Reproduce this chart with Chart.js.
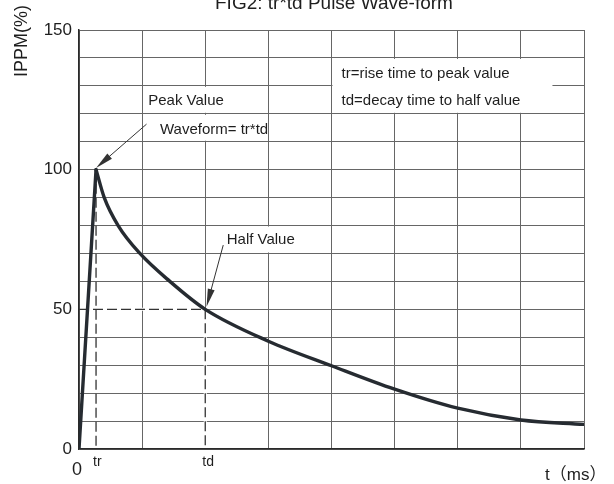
<!DOCTYPE html>
<html>
<head>
<meta charset="utf-8">
<script src="https://cdn.jsdelivr.net/npm/chart.js@4.4.1/dist/chart.umd.min.js"></script>
<style>
  body { margin: 0; background: #fff; }
  #wrap { width: 614px; height: 484px; }
</style>
</head>
<body>
<div id="wrap"><canvas id="pulseChart" width="614" height="484"></canvas></div>
<script>
// Data (x in grid columns, y in %)
const riseX = [0, 0.27];
const riseY = [0, 100];
const decayX = [0.27, 0.40, 0.62, 0.965, 1.44, 2, 3, 4, 5, 6, 7, 8];
const decayY = [100, 90, 80, 70, 60, 50, 38.6, 29.8, 21.4, 14.6, 10.4, 8.8];
const yTickLabels = [0, 50, 100, 150];
const xTickValues = [0, 0.27, 2];
const xTickLabels = ['0', 'tr', 'td'];

const FONT = "'Liberation Sans', Arial, sans-serif";
const INK = '#1e1e1e';
const CURVE = '#262b31';

function drawArrow(ctx, x1, y1, x2, y2, len, half) {
    const a = Math.atan2(y2 - y1, x2 - x1);
    ctx.beginPath();
    ctx.moveTo(x1, y1);
    ctx.lineTo(x2 - Math.cos(a) * len * 0.6, y2 - Math.sin(a) * len * 0.6);
    ctx.stroke();
    ctx.beginPath();
    ctx.moveTo(x2, y2);
    ctx.lineTo(x2 - Math.cos(a) * len + Math.sin(a) * half, y2 - Math.sin(a) * len - Math.cos(a) * half);
    ctx.lineTo(x2 - Math.cos(a) * len - Math.sin(a) * half, y2 - Math.sin(a) * len + Math.cos(a) * half);
    ctx.closePath();
    ctx.fill();
}

function seg(ctx, x1, y1, x2, y2) {
    ctx.beginPath();
    ctx.moveTo(x1, y1);
    ctx.lineTo(x2, y2);
    ctx.stroke();
}

const overlay = {
    id: 'overlay',
    beforeDatasetsDraw(chart) {
        const ctx = chart.ctx;
        const px = v => chart.scales.x.getPixelForValue(v);
        const py = v => chart.scales.y.getPixelForValue(v);
        ctx.save();
        ctx.fillStyle = '#fff';
        // white boxes behind the notes
        ctx.fillRect(px(4) + 1, py(140) + 1, px(7.5) - px(4) - 1, py(120) - py(140) - 2);
        ctx.fillRect(px(2) - 2, py(130) + 1, 4, py(120) - py(130) - 2);
        ctx.fillRect(px(2) - 2, py(120) + 1, 4, py(110) - py(120) - 2);
        ctx.font = '15px ' + FONT;
        const hw = ctx.measureText('Half Value').width;
        ctx.fillRect(px(2.34) - 2, py(80) + 1, hw + 4, py(70) - py(80) - 2);

        // dashed guide lines (tr, td, 50%)
        ctx.strokeStyle = '#fff';
        ctx.lineWidth = 3;
        seg(ctx, px(0) + 1, py(50), px(2), py(50));
        seg(ctx, px(2), py(50), px(2), py(0) - 1);
        ctx.setLineDash([10, 4]);
        ctx.strokeStyle = '#333';
        ctx.lineWidth = 1.3;
        seg(ctx, px(0), py(50), px(2), py(50));
        seg(ctx, px(2), py(50), px(2), py(0));
        seg(ctx, px(riseX[1]), py(100), px(riseX[1]), py(0));
        ctx.restore();
    },
    afterDraw(chart) {
        const ctx = chart.ctx;
        const px = v => chart.scales.x.getPixelForValue(v);
        const py = v => chart.scales.y.getPixelForValue(v);
        ctx.save();
        ctx.fillStyle = INK;
        ctx.textBaseline = 'middle';
        ctx.textAlign = 'left';

        // notes
        ctx.font = '15px ' + FONT;
        ctx.fillText('tr=rise time to peak value', px(4.16), py(134.2));
        ctx.fillText('td=decay time to half value', px(4.16), py(124.7));
        ctx.fillText('Peak Value', px(1.097), py(124.7));
        ctx.fillText('Waveform= tr*td', px(1.283), py(114.4));
        ctx.fillText('Half Value', px(2.34), py(75));

        // arrows
        ctx.strokeStyle = '#333';
        ctx.fillStyle = '#333';
        ctx.lineWidth = 1;
        drawArrow(ctx, px(1.07), py(116.3), px(0.27), py(100.6), 18, 3.5);
        drawArrow(ctx, px(2.285), py(73), px(2.02), py(50.9), 18, 3.5);

        // x tick labels
        ctx.fillStyle = INK;
        xTickLabels.forEach((lab, i) => {
            if (lab === '0') {
                ctx.font = '18px ' + FONT;
                ctx.textAlign = 'center';
                ctx.fillText(lab, px(xTickValues[i]) - 2, 470);
            } else {
                ctx.font = '14px ' + FONT;
                ctx.textAlign = 'left';
                ctx.fillText(lab, px(xTickValues[i]) - 3, 462);
            }
        });
        ctx.font = '17px ' + FONT + ", 'Noto Sans CJK SC'";
        ctx.textAlign = 'left';
        ctx.fillText('t（ms）', 545, 475);

        // title
        ctx.font = '19px ' + FONT;
        ctx.textBaseline = 'alphabetic';
        ctx.fillText('FIG2: tr*td Pulse Wave-form', 215, 9);

        // y axis title
        ctx.translate(27, 5);
        ctx.rotate(-Math.PI / 2);
        ctx.font = '18px ' + FONT;
        ctx.textAlign = 'right';
        ctx.fillText('IPPM(%)', 0, 0);
        ctx.restore();
    }
};

const gridColor = '#666';

new Chart(document.getElementById('pulseChart'), {
    type: 'line',
    data: {
        datasets: [
            {
                data: riseX.map((x, i) => ({ x: x, y: riseY[i] })),
                borderColor: CURVE,
                borderWidth: 3.4,
                pointRadius: 0,
                tension: 0,
                borderCapStyle: 'round'
            },
            {
                data: decayX.map((x, i) => ({ x: x, y: decayY[i] })),
                borderColor: CURVE,
                borderWidth: 3.4,
                pointRadius: 0,
                cubicInterpolationMode: 'monotone',
                borderCapStyle: 'round'
            }
        ]
    },
    options: {
        responsive: false,
        animation: false,
        layout: { padding: { top: 30, right: 30, left: 0, bottom: 0 } },
        plugins: {
            legend: { display: false },
            tooltip: { enabled: false }
        },
        scales: {
            x: {
                type: 'linear',
                min: 0,
                max: 8,
                ticks: { stepSize: 1, display: false },
                grid: { color: gridColor, lineWidth: 1, drawTicks: false },
                border: { color: '#2a2a2a', width: 1.5 },
                afterFit: scale => { scale.height = 35; }
            },
            y: {
                min: 0,
                max: 150,
                ticks: {
                    stepSize: 10,
                    autoSkip: false,
                    padding: 7,
                    color: INK,
                    font: { family: FONT, size: 17 },
                    callback: v => yTickLabels.includes(v) ? String(v) : ''
                },
                grid: { color: gridColor, lineWidth: 1, drawTicks: false },
                border: { color: '#2a2a2a', width: 1.5 },
                afterFit: scale => { scale.width = 79; }
            }
        }
    },
    plugins: [overlay]
});
</script>
</body>
</html>
